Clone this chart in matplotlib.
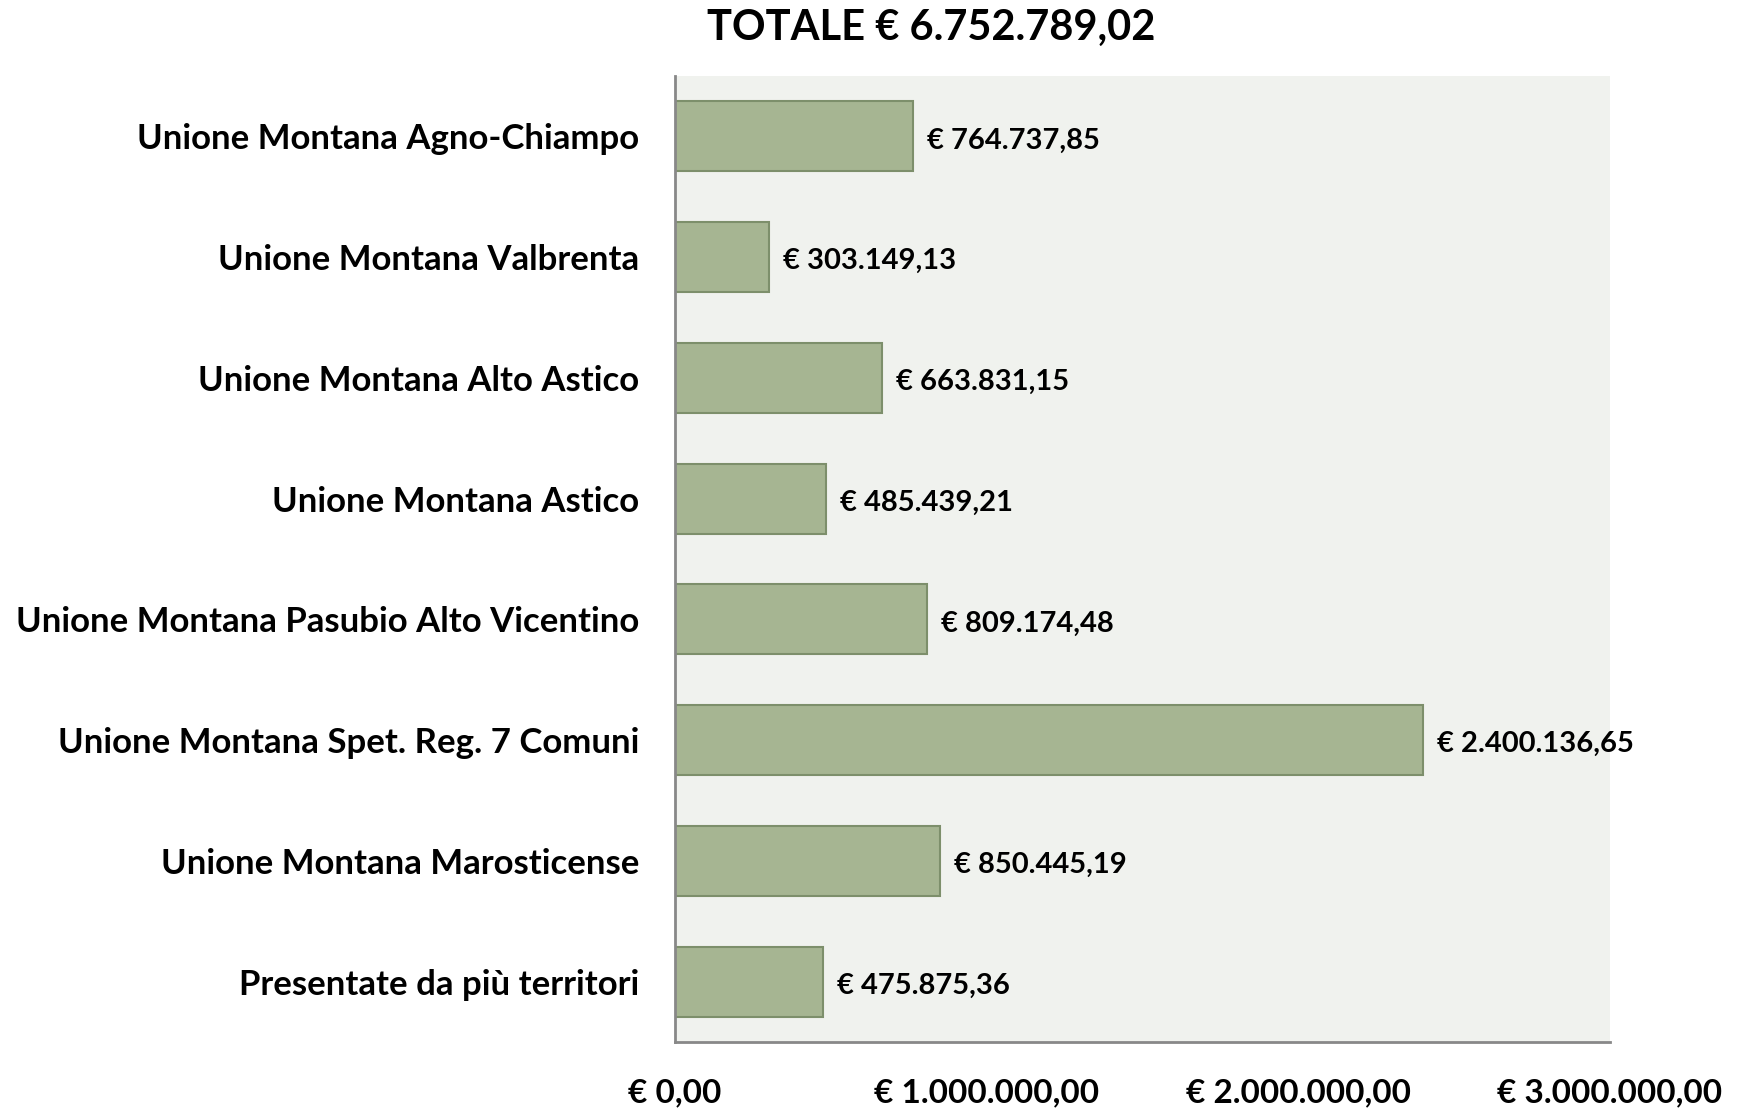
import matplotlib
matplotlib.use("Agg")
import matplotlib.pyplot as plt
from matplotlib.ticker import FuncFormatter

categories = [
    "Unione Montana Agno-Chiampo",
    "Unione Montana Valbrenta",
    "Unione Montana Alto Astico",
    "Unione Montana Astico",
    "Unione Montana Pasubio Alto Vicentino",
    "Unione Montana Spet. Reg. 7 Comuni",
    "Unione Montana Marosticense",
    "Presentate da più territori",
]
values = [764737.85, 303149.13, 663831.15, 485439.21, 809174.48, 2400136.65, 850445.19, 475875.36]
total_label = "TOTALE € 6.752.789,02"
x_ticks = [0, 1000000, 2000000, 3000000]

FONT = "Lato"

def eur(v):
    s = f"{v:,.2f}"
    s = s.replace(",", "X").replace(".", ",").replace("X", ".")
    return "€ " + s

fig = plt.figure(figsize=(17.37, 11.11), dpi=100)
ax = fig.add_axes([675/1737, 1-1042/1111, (1610-675)/1737, (1042-76)/1111])
ax.set_facecolor("#F0F2EE")

y = list(range(len(categories)))
ax.barh(y, values, height=0.58, color="#A6B592", edgecolor="#7D8F6B", linewidth=1.5, zorder=2)
ax.set_ylim(len(categories) - 0.5, -0.5)
ax.set_xlim(0, 3000000)
ax.set_yticks(y)
ax.set_yticklabels(categories, fontsize=25, fontweight="bold", family=FONT)
ax.set_xticks(x_ticks)
ax.xaxis.set_major_formatter(FuncFormatter(lambda v, p: eur(v)))
for lab in ax.get_xticklabels():
    lab.set_fontsize(24)
    lab.set_fontweight("bold")
    lab.set_family(FONT)
ax.tick_params(axis="y", length=0, pad=26)
ax.tick_params(axis="x", length=0, pad=26)
for s in ["top", "right"]:
    ax.spines[s].set_visible(False)
for s in ["left", "bottom"]:
    ax.spines[s].set_color("#888888")
    ax.spines[s].set_linewidth(2)

for yi, v in zip(y, values):
    ax.annotate(eur(v), xy=(v, yi), xytext=(14, -4), textcoords="offset pixels",
                va="center", ha="left", fontsize=21, fontweight="bold", family=FONT)

fig.text(931/1737, 1-28/1111, total_label, ha="center", va="center",
         fontsize=30, fontweight="bold", family=FONT)

fig.savefig("out.png", dpi=100)
